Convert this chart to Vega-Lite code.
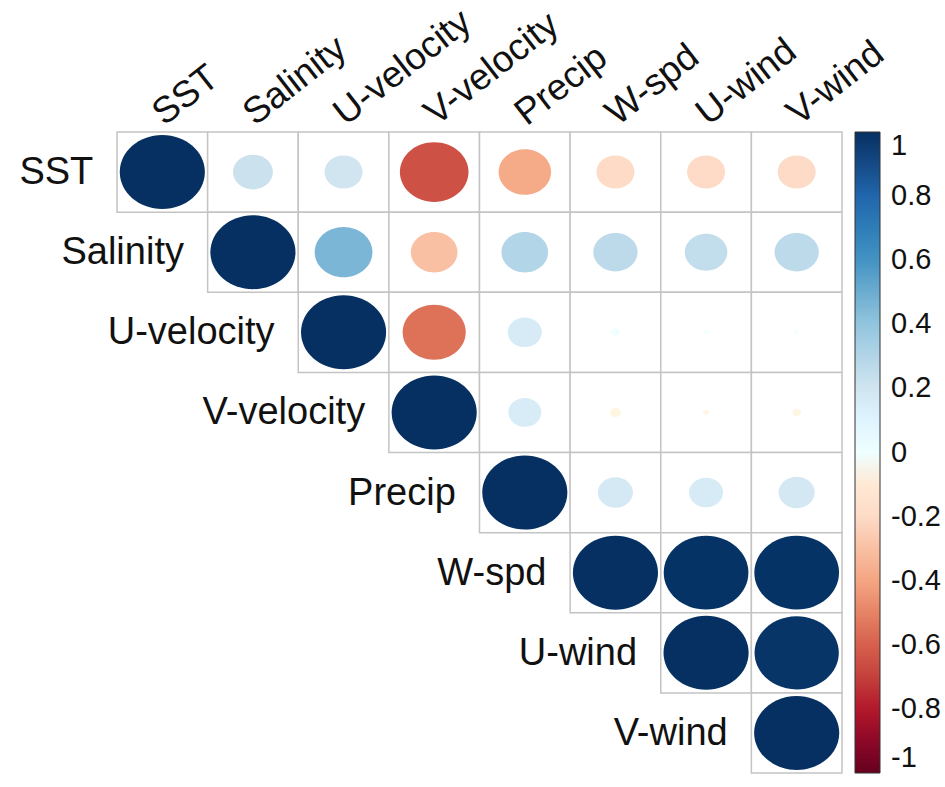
{
  "$schema": "https://vega.github.io/schema/vega-lite/v6.json",
  "autosize": {"type": "none"},
  "padding": {"left": 117, "top": 132, "right": 103, "bottom": 14},
  "width": 725,
  "height": 641,
  "background": "white",
  "config": {"view": {"stroke": null}, "font": "Liberation Sans"},
  "data": {
    "values": [
      {"row": "SST", "col": "SST", "r": 1},
      {"row": "SST", "col": "Salinity", "r": 0.22},
      {"row": "SST", "col": "U-velocity", "r": 0.2},
      {"row": "SST", "col": "V-velocity", "r": -0.65},
      {"row": "SST", "col": "Precip", "r": -0.38},
      {"row": "SST", "col": "W-spd", "r": -0.2},
      {"row": "SST", "col": "U-wind", "r": -0.2},
      {"row": "SST", "col": "V-wind", "r": -0.2},
      {"row": "Salinity", "col": "Salinity", "r": 1},
      {"row": "Salinity", "col": "U-velocity", "r": 0.46},
      {"row": "Salinity", "col": "V-velocity", "r": -0.3},
      {"row": "Salinity", "col": "Precip", "r": 0.3},
      {"row": "Salinity", "col": "W-spd", "r": 0.27},
      {"row": "Salinity", "col": "U-wind", "r": 0.25},
      {"row": "Salinity", "col": "V-wind", "r": 0.27},
      {"row": "U-velocity", "col": "U-velocity", "r": 1},
      {"row": "U-velocity", "col": "V-velocity", "r": -0.55},
      {"row": "U-velocity", "col": "Precip", "r": 0.16},
      {"row": "U-velocity", "col": "W-spd", "r": 0.01},
      {"row": "U-velocity", "col": "U-wind", "r": 0.002},
      {"row": "U-velocity", "col": "V-wind", "r": 0.002},
      {"row": "V-velocity", "col": "V-velocity", "r": 1},
      {"row": "V-velocity", "col": "Precip", "r": 0.15},
      {"row": "V-velocity", "col": "W-spd", "r": -0.015},
      {"row": "V-velocity", "col": "U-wind", "r": -0.005},
      {"row": "V-velocity", "col": "V-wind", "r": -0.01},
      {"row": "Precip", "col": "Precip", "r": 1},
      {"row": "Precip", "col": "W-spd", "r": 0.17},
      {"row": "Precip", "col": "U-wind", "r": 0.16},
      {"row": "Precip", "col": "V-wind", "r": 0.18},
      {"row": "W-spd", "col": "W-spd", "r": 1},
      {"row": "W-spd", "col": "U-wind", "r": 0.99},
      {"row": "W-spd", "col": "V-wind", "r": 0.99},
      {"row": "U-wind", "col": "U-wind", "r": 1},
      {"row": "U-wind", "col": "V-wind", "r": 0.98},
      {"row": "V-wind", "col": "V-wind", "r": 1}
    ]
  },
  "encoding": {
    "x": {
      "field": "col", "type": "nominal",
      "sort": ["SST", "Salinity", "U-velocity", "V-velocity", "Precip", "W-spd", "U-wind", "V-wind"],
      "scale": {"type": "band", "paddingInner": 0, "paddingOuter": 0},
      "axis": {
        "orient": "top", "title": null, "domain": false, "ticks": false, "tickSize": 0,
        "labelAngle": -38, "labelAlign": "left", "labelBaseline": "alphabetic",
        "labelFontSize": 37, "labelPadding": 6, "labelOffset": 2, "labelColor": "#111",
        "labelFont": "Liberation Sans", "labelLimit": 400, "labelOverlap": false, "labelBound": false, "grid": false
      }
    },
    "y": {
      "field": "row", "type": "nominal",
      "sort": ["SST", "Salinity", "U-velocity", "V-velocity", "Precip", "W-spd", "U-wind", "V-wind"],
      "scale": {"type": "band", "paddingInner": 0, "paddingOuter": 0},
      "axis": null
    }
  },
  "layer": [
    {
      "mark": {"type": "rect", "fill": "white", "stroke": "#c4c4c4", "strokeWidth": 1.5}
    },
    {
      "mark": {
        "type": "point", "filled": true, "opacity": 1, "strokeWidth": 0,
        "shape": "M-1.15,0C-1.15,-0.5523,-0.6351,-1,0,-1C0.6351,-1,1.15,-0.5523,1.15,0C1.15,0.5523,0.6351,1,0,1C-0.6351,1,-1.15,0.5523,-1.15,0Z"
      },
      "encoding": {
        "color": {
          "field": "r", "type": "quantitative",
          "scale": {
            "domain": [-1, -0.8, -0.6, -0.4, -0.2, 0, 0.2, 0.4, 0.6, 0.8, 1],
            "range": ["#67001F", "#B2182B", "#D6604D", "#F4A582", "#FDDBC7", "#FFFFFF", "#D1E5F0", "#92C5DE", "#4393C3", "#2166AC", "#053061"]
          },
          "legend": {
            "orient": "none", "legendX": 738, "legendY": 0, "direction": "vertical",
            "title": null, "gradientLength": 641, "gradientThickness": 25,
            "gradientStrokeColor": "#333", "gradientStrokeWidth": 1,
            "values": [1, 0.8, 0.6, 0.4, 0.2, 0, -0.2, -0.4, -0.6, -0.8, -1],
            "format": "~g", "labelExpr": "replace(datum.label, '\u2212', '-')",
            "labelFontSize": 29, "labelOffset": 11, "labelColor": "#111",
            "labelFont": "Liberation Sans", "labelOverlap": false, "labelLimit": 200
          }
        },
        "size": {
          "field": "r", "type": "quantitative",
          "scale": {"type": "linear", "domain": [-1, 0, 1], "range": [5476, 0, 5476]},
          "legend": null
        }
      }
    },
    {
      "transform": [{"filter": "datum.row === datum.col"}],
      "mark": {"type": "text", "align": "right", "baseline": "alphabetic", "dx": -69, "dy": 12, "fontSize": 38, "font": "Liberation Sans", "color": "#111"},
      "encoding": {"text": {"field": "row", "type": "nominal"}}
    }
  ]
}
